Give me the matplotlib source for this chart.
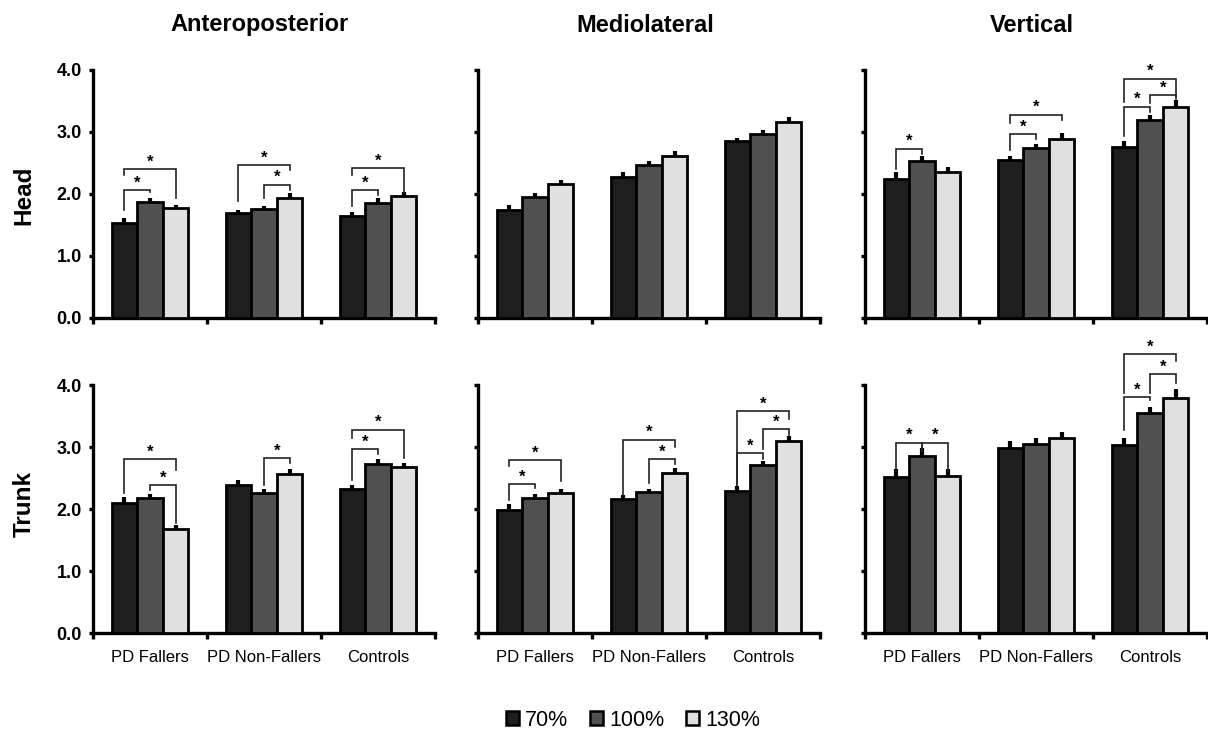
import matplotlib
matplotlib.use('Agg')
import matplotlib.pyplot as plt
from matplotlib.patches import Patch
import numpy as np

plt.rcParams['font.family'] = ['Liberation Sans', 'DejaVu Sans']

groups = ['PD Fallers', 'PD Non-Fallers', 'Controls']
speeds = ['70%', '100%', '130%']
directions = ['Anteroposterior', 'Mediolateral', 'Vertical']
segments = ['Head', 'Trunk']
colors = ['#1e1e1e', '#505050', '#e0e0e0']

# values[group][speed]
head_ap = [[1.54, 1.87, 1.77], [1.70, 1.76, 1.94], [1.65, 1.86, 1.97]]
head_ml = [[1.74, 1.95, 2.16], [2.28, 2.47, 2.61], [2.85, 2.97, 3.16]]
head_v = [[2.24, 2.53, 2.35], [2.55, 2.74, 2.89], [2.76, 3.20, 3.41]]
trunk_ap = [[2.10, 2.17, 1.68], [2.39, 2.26, 2.56], [2.32, 2.73, 2.68]]
trunk_ml = [[1.99, 2.17, 2.26], [2.16, 2.27, 2.58], [2.29, 2.71, 3.09]]
trunk_v = [[2.51, 2.86, 2.54], [2.99, 3.05, 3.14], [3.04, 3.55, 3.79]]

head_ap_err = [[0.08, 0.07, 0.06], [0.05, 0.05, 0.07], [0.06, 0.07, 0.07]]
head_ml_err = [[0.09, 0.07, 0.06], [0.07, 0.06, 0.08], [0.06, 0.06, 0.08]]
head_v_err = [[0.11, 0.08, 0.08], [0.07, 0.07, 0.09], [0.10, 0.08, 0.11]]
trunk_ap_err = [[0.09, 0.07, 0.07], [0.07, 0.07, 0.08], [0.07, 0.07, 0.07]]
trunk_ml_err = [[0.09, 0.08, 0.07], [0.06, 0.06, 0.08], [0.08, 0.07, 0.09]]
trunk_v_err = [[0.13, 0.12, 0.10], [0.10, 0.10, 0.11], [0.10, 0.10, 0.14]]

# significance brackets: (group, bar_i, bar_j, height, left_leg_bottom, right_leg_bottom)
head_ap_sig = [(0, 0, 1, 2.06, 1.75, 2.03), (0, 0, 2, 2.40, 2.31, 1.94),
               (1, 0, 2, 2.47, 1.88, 2.38), (1, 1, 2, 2.15, 1.94, 2.06),
               (2, 0, 1, 2.06, 1.80, 1.98), (2, 0, 2, 2.42, 2.30, 2.01)]
head_ml_sig = []
head_v_sig = [(0, 0, 1, 2.73, 2.41, 2.65),
              (1, 0, 1, 2.97, 2.71, 2.88), (1, 0, 2, 3.28, 3.15, 3.19),
              (2, 0, 2, 3.86, 3.48, 3.58), (2, 1, 2, 3.60, 3.47, 3.53),
              (2, 0, 1, 3.41, 2.94, 3.33)]
trunk_ap_sig = [(0, 0, 2, 2.80, 2.26, 2.63), (0, 1, 2, 2.39, 2.31, 1.77),
                (1, 1, 2, 2.82, 2.39, 2.74),
                (2, 0, 2, 3.28, 3.15, 2.82), (2, 0, 1, 2.97, 2.47, 2.88)]
trunk_ml_sig = [(0, 0, 1, 2.40, 2.15, 2.34), (0, 0, 2, 2.79, 2.69, 2.45),
                (1, 0, 2, 3.12, 2.23, 3.00), (1, 1, 2, 2.81, 2.42, 2.73),
                (2, 0, 2, 3.58, 2.39, 3.45), (2, 1, 2, 3.29, 2.97, 3.20),
                (2, 0, 1, 2.90, 2.39, 2.81)]
trunk_v_sig = [(0, 0, 1, 3.07, 2.61, 2.93), (0, 1, 2, 3.07, 2.93, 2.61),
               (2, 0, 2, 4.50, 3.87, 4.39), (2, 1, 2, 4.17, 3.87, 4.03),
               (2, 0, 1, 3.80, 3.27, 3.76)]

panels = [
    [(head_ap, head_ap_err, head_ap_sig), (head_ml, head_ml_err, head_ml_sig), (head_v, head_v_err, head_v_sig)],
    [(trunk_ap, trunk_ap_err, trunk_ap_sig), (trunk_ml, trunk_ml_err, trunk_ml_sig), (trunk_v, trunk_v_err, trunk_v_sig)],
]
yticks = [0.0, 1.0, 2.0, 3.0, 4.0]

W, H = 1208, 742
fig = plt.figure(figsize=(W / 100, H / 100), dpi=100)

col_left = [93, 478, 865]
ax_w = 342
row_top = [70, 385]
ax_h = 248

bw = 0.224
offsets = [-0.224, 0.0, 0.224]
xc = np.arange(3) + 0.5

for r in range(2):
    for c in range(3):
        vals, errs, sig = panels[r][c]
        ax = fig.add_axes([col_left[c] / W, 1 - (row_top[r] + ax_h) / H, ax_w / W, ax_h / H])
        for k in range(3):
            v = [vals[g][k] for g in range(3)]
            e = [errs[g][k] for g in range(3)]
            ax.bar(xc + offsets[k], v, width=bw, color=colors[k], edgecolor='black',
                   linewidth=2.0, yerr=[[0, 0, 0], e],
                   error_kw=dict(ecolor='black', elinewidth=3.0, capsize=0), zorder=3)
        for (g, i, j, y, yl, yr) in sig:
            x1 = xc[g] + offsets[i]
            x2 = xc[g] + offsets[j]
            ax.plot([x1, x1, x2, x2], [yl, y, y, yr], color='#222222', lw=1.2,
                    clip_on=False, zorder=4, solid_joinstyle='miter')
            ax.text((x1 + x2) / 2, y + 0.04, '*', ha='center', va='baseline',
                    fontsize=12, fontweight='bold', clip_on=False)
        ax.set_xlim(0, 3)
        ax.set_ylim(0, 4)
        for s in ['top', 'right']:
            ax.spines[s].set_visible(False)
        for s in ['left', 'bottom']:
            ax.spines[s].set_linewidth(2.4)
        ax.set_xticks([0, 1, 2, 3])
        ax.set_xticklabels([])
        ax.set_xticks(xc, minor=True)
        if r == 1:
            ax.set_xticklabels(groups, minor=True, fontsize=12)
        else:
            ax.set_xticklabels([], minor=True)
        ax.tick_params(axis='x', which='major', direction='out', length=4, width=2.4)
        ax.tick_params(axis='x', which='minor', length=0, pad=12)
        ax.set_yticks(yticks)
        if c == 0:
            ax.set_yticklabels([f'{t:.1f}' for t in yticks], fontsize=13, fontweight='bold')
        else:
            ax.set_yticklabels([])
        ax.tick_params(axis='y', direction='out', length=3, width=2.4, pad=5)
        if r == 0:
            fig.text((col_left[c] + ax_w / 2 - 4) / W, 1 - 25 / H, directions[c], ha='center', va='center',
                     fontsize=17, fontweight='bold')

fig.text(24 / W, 1 - 195 / H, segments[0], rotation=90, ha='center', va='center', fontsize=17.5, fontweight='bold')
fig.text(24 / W, 1 - 504 / H, segments[1], rotation=90, ha='center', va='center', fontsize=17.5, fontweight='bold')

handles = [Patch(facecolor=colors[k], edgecolor='black', linewidth=1.8) for k in range(3)]
fig.legend(handles, speeds, loc='center', bbox_to_anchor=(633 / W, 1 - 720 / H), ncol=3, frameon=False,
           fontsize=15.5, handlelength=0.6, handleheight=0.6, handletextpad=0.3, columnspacing=1.0)

fig.savefig('out.png', dpi=100)
